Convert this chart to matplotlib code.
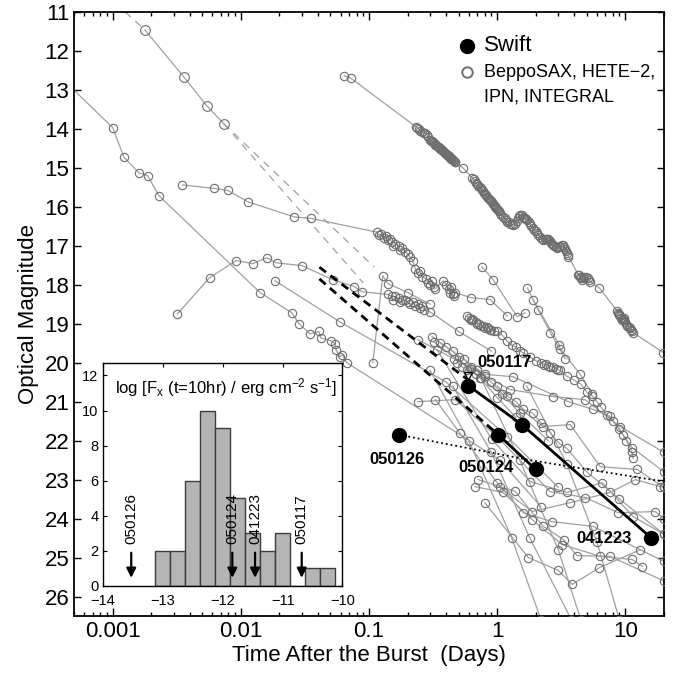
import numpy as np
import matplotlib
matplotlib.use("Agg")
import matplotlib.pyplot as plt
from matplotlib.lines import Line2D
from matplotlib.ticker import FixedLocator, NullFormatter, LogLocator

plt.rcParams['font.family'] = ['Liberation Sans', 'DejaVu Sans']
plt.rcParams['mathtext.fontset'] = 'custom'
plt.rcParams['mathtext.rm'] = 'Liberation Sans'
plt.rcParams['mathtext.it'] = 'Liberation Sans:italic'

# ---- pre-Swift afterglows (BeppoSAX, HETE-2, IPN, INTEGRAL) ----
lc01_t = [0.00178, 0.00359, 0.00542, 0.00736]
lc01_m = [11.46, 12.67, 13.41, 13.87]
# dashed extrapolations of the earliest one
ext_t_a = [0.00125, 0.00178]
ext_m_a = [11.0, 11.46]
ext_t_b = [0.00736, 0.11]
ext_m_b = [13.87, 17.55]
ext_t_c = [0.00736, 0.09]
ext_m_c = [13.87, 17.95]

lc02_t = [0.0004, 0.001, 0.00122, 0.0016, 0.00187, 0.0023, 0.0141, 0.025, 0.0284,
          0.0346, 0.0406, 0.042, 0.0505, 0.0546, 0.0553, 0.0594, 0.062, 0.067, 1.05, 2.2]
lc02_m = [12.7, 13.97, 14.72, 15.13, 15.2, 15.72, 18.2, 18.72, 19.0,
          19.26, 19.2, 19.36, 19.44, 19.51, 19.67, 19.85, 19.8, 20.0, 22.5, 23.7]

lc03_t = [0.0035, 0.0062, 0.0079, 0.0113, 0.026, 0.0354, 0.115, 0.12, 0.125, 0.13,
          0.135, 0.14, 0.145, 0.15, 0.155, 0.16, 0.17, 0.175, 0.18, 0.19, 0.2, 0.21,
          0.22, 0.23, 0.24, 0.25, 0.26, 0.28, 0.29, 0.3, 0.31, 0.32, 0.33, 0.38, 0.4,
          0.42, 0.43, 0.44, 0.45, 0.46, 0.47, 0.62, 0.88, 1.2]
lc03_m = [15.44, 15.53, 15.58, 15.87, 16.26, 16.3, 16.65, 16.72, 16.7, 16.8,
          16.75, 16.85, 16.82, 16.9, 17.0, 16.95, 17.0, 17.1, 17.05, 17.15, 17.2, 17.3,
          17.38, 17.6, 17.7, 17.65, 17.8, 17.85, 17.95, 18.0, 17.9, 18.05, 18.1, 17.9, 18.0,
          18.1, 18.2, 18.05, 18.25, 18.3, 18.2, 18.33, 18.38, 18.8]

lc04_t = [0.0032, 0.0057, 0.0092, 0.0124, 0.0159, 0.019, 0.030, 0.052, 0.077, 0.088,
          0.14, 0.15, 0.155, 0.16, 0.17, 0.175, 0.18, 0.19, 0.2, 0.21, 0.22, 0.23, 0.24,
          0.25, 0.26, 0.27, 0.3, 0.5, 0.9]
lc04_m = [18.75, 17.82, 17.38, 17.46, 17.31, 17.44, 17.51, 17.87, 18.05, 18.18,
          18.25, 18.3, 18.4, 18.3, 18.35, 18.45, 18.4, 18.4, 18.45, 18.5, 18.45, 18.55, 18.5,
          18.6, 18.55, 18.65, 18.7, 19.2, 19.7]

lc05_t = [0.0185, 0.059, 0.4, 1.2, 3.0]
lc05_m = [17.9, 18.95, 20.5, 21.9, 23.2]

lc06_t = [0.064, 0.072,
          0.233, 0.238, 0.245, 0.252, 0.26, 0.268, 0.275, 0.284, 0.29,
          0.300, 0.305, 0.310, 0.315, 0.320, 0.325, 0.330, 0.335, 0.340, 0.345, 0.350,
          0.355, 0.360, 0.365, 0.370, 0.375, 0.380, 0.385, 0.390, 0.395, 0.400, 0.405,
          0.410, 0.415, 0.420, 0.425, 0.430, 0.435, 0.440, 0.445, 0.450, 0.455, 0.460,
          0.465, 0.470, 0.54,
          0.64, 0.655, 0.67, 0.685, 0.70, 0.715, 0.73, 0.745, 0.76, 0.775, 0.79, 0.805,
          0.82, 0.835, 0.85, 0.865, 0.88, 0.895, 0.91, 0.925, 0.94, 0.955, 0.97, 0.985,
          1.0, 1.015, 1.03, 1.05,
          1.08, 1.11, 1.15, 1.18, 1.2, 1.23, 1.27, 1.3, 1.34, 1.38, 1.42, 1.45, 1.48,
          1.51, 1.55, 1.58, 1.62, 1.65, 1.69, 1.72, 1.76, 1.8, 1.85, 1.9, 1.95, 2.0,
          2.05, 2.1, 2.15, 2.22, 2.29, 2.35, 2.4, 2.45, 2.5, 2.55, 2.59, 2.65, 2.7,
          2.75, 2.8, 2.87, 2.94, 3.02, 3.1, 3.18, 3.28, 3.34, 3.4, 3.46, 3.52, 3.56, 3.6,
          4.29, 4.35, 4.4, 4.5, 4.6, 4.7, 4.8, 4.95, 5.1, 5.2, 5.3, 6.27,
          8.66, 8.78, 8.9, 9.0, 9.1, 9.25, 9.4, 9.55, 9.7, 9.85, 10.0, 10.2, 10.4, 10.6,
          10.8, 10.95, 11.1, 11.3, 11.5, 19.8]
lc06_m = [12.64, 12.7,
          13.95, 13.98, 14.0, 14.05, 14.08, 14.1, 14.12, 14.15, 14.2,
          14.28, 14.3, 14.32, 14.34, 14.36, 14.38, 14.41, 14.42, 14.44, 14.46, 14.47,
          14.49, 14.51, 14.53, 14.55, 14.56, 14.58, 14.6, 14.61, 14.63, 14.64, 14.66,
          14.68, 14.69, 14.71, 14.72, 14.74, 14.75, 14.77, 14.78, 14.79, 14.81, 14.82,
          14.84, 14.85, 15.0,
          15.26, 15.3, 15.34, 15.38, 15.42, 15.46, 15.5, 15.53, 15.57, 15.6, 15.64, 15.67,
          15.71, 15.74, 15.77, 15.8, 15.83, 15.86, 15.89, 15.92, 15.95, 15.98, 16.01, 16.04,
          16.06, 16.09, 16.12, 16.15,
          16.2, 16.25, 16.3, 16.35, 16.38, 16.4, 16.43, 16.45, 16.46, 16.44, 16.36, 16.3, 16.24,
          16.2, 16.22, 16.25, 16.28, 16.3, 16.32, 16.33, 16.38, 16.45, 16.5, 16.55, 16.6, 16.63,
          16.67, 16.72, 16.78, 16.82, 16.85, 16.84, 16.83, 16.83, 16.84, 16.86, 16.88, 16.92, 16.95,
          16.98, 17.0, 17.03, 17.05, 17.02, 17.0, 16.98, 16.97, 17.02, 17.08, 17.13, 17.18, 17.23, 17.28,
          17.74, 17.76, 17.8, 17.84, 17.87, 17.84, 17.8, 17.81, 17.82, 17.87, 17.92, 18.08,
          18.68, 18.72, 18.75, 18.78, 18.8, 18.85, 18.9, 18.87, 18.85, 18.9, 18.95, 19.0, 19.05, 19.08,
          19.1, 19.12, 19.15, 19.2, 19.23, 19.74]

lc07_t = [0.107, 0.128, 0.14, 0.2, 0.3]
lc07_m = [20.0, 17.77, 17.97, 18.2, 18.5]

lc08_t = [0.76, 0.93, 1.43, 1.65]
lc08_m = [17.54, 17.87, 18.82, 18.72]

lc09_t = [1.72, 2.09, 2.6, 3.4]
lc09_m = [18.08, 18.64, 19.23, 19.9]

lc10_t = [1.9, 3.05, 3.1, 4.45, 5.5]
lc10_m = [18.38, 19.54, 19.64, 20.3, 20.8]

lc11_t = [0.58, 0.6, 0.62, 0.64, 0.65, 0.68, 0.7, 0.72, 0.75, 0.78, 0.8, 0.83, 0.85, 0.88,
          0.9, 0.95, 1.0, 1.1, 1.2, 1.3, 1.4, 1.5, 1.6, 1.8, 2.0, 2.2, 2.3, 2.4, 2.5, 2.6,
          2.75, 2.9, 3.0, 3.1, 3.5, 4.0, 4.5, 5.0, 5.5, 6.0, 6.5, 7.2, 8.0, 9.0, 9.6,
          10.2, 11.3, 11.5]
lc11_m = [18.8, 18.85, 18.9, 18.88, 18.9, 18.95, 19.0, 19.0, 19.05, 19.05, 19.1, 19.08, 19.1, 19.15,
          19.15, 19.2, 19.2, 19.3, 19.45, 19.55, 19.6, 19.7, 19.75, 19.85, 19.95, 20.0, 20.05, 20.03, 20.08, 20.1,
          20.12, 20.15, 20.18, 20.2, 20.35, 20.45, 20.55, 20.75, 20.85, 21.0, 21.15, 21.35, 21.5, 21.7, 21.85,
          22.0, 22.3, 22.45]

# fainter afterglows in the crowded part of the plot
q01_t = [0.24, 0.46, 1.26, 2.74, 4.87, 9.1, 20.0]
q01_m = [19.41, 19.9, 20.69, 20.87, 20.95, 21.64, 22.3]
q02_t = [0.31, 0.8, 1.33, 3.59, 5.6, 7.6, 11.3, 20.0]
q02_m = [19.33, 20.3, 20.36, 21.0, 21.2, 21.38, 22.18, 22.8]
q03_t = [0.32, 0.75, 2.29, 3.72, 6.38, 12.4, 20.0]
q03_m = [19.46, 20.4, 21.64, 21.59, 22.67, 22.74, 23.2]
q04_t = [0.34, 0.91, 1.81, 3.52, 6.61, 11.5, 20.0]
q04_m = [19.67, 21.97, 23.05, 23.33, 23.08, 23.95, 24.4]
q05_t = [0.24, 0.47, 1.0, 2.59, 4.87, 8.8, 17.1, 20.0]
q05_m = [21.0, 20.95, 21.9, 23.31, 23.46, 23.85, 23.82, 24.0]
q06_t = [0.33, 0.51, 1.0, 1.6, 2.69, 5.6, 20.0]
q06_m = [20.95, 21.8, 23.08, 23.85, 24.08, 24.2, 25.1]
q07_t = [0.67, 1.11, 1.88, 3.22, 6.38, 11.3, 13.6]
q07_m = [23.18, 23.33, 24.03, 24.67, 24.97, 25.05, 25.23]
q08_t = [0.71, 1.38, 2.29, 3.3, 4.2, 7.6, 20.0]
q08_m = [23.0, 23.3, 24.2, 24.54, 24.95, 24.97, 25.6]
q09_t = [0.8, 1.75, 3.0, 3.85, 6.27, 13.1]
q09_m = [23.59, 25.0, 25.33, 25.69, 25.26, 24.8]
q10_t = [1.05, 1.88, 3.72, 7.6, 12.0, 18.8, 20.0]
q10_m = [23.2, 23.82, 23.59, 23.33, 23.0, 23.18, 23.2]
s01_t = [0.45, 0.9, 1.8, 3.8]
s01_m = [20.6, 22.3, 24.5, 26.6]
s02_t = [0.7, 1.5, 3.0, 4.5]
s02_m = [20.2, 22.5, 24.8, 26.6]
s03_t = [1.7, 3.5, 6.0, 9.0]
s03_m = [20.6, 22.6, 24.6, 26.6]
s04_t = [0.3, 0.6, 1.3, 2.2]
s04_m = [20.2, 22.0, 24.5, 26.6]
r01_t = [0.36, 0.4, 0.45, 0.5, 0.55, 0.62, 0.7, 0.8, 0.9, 1.1, 1.5, 2.5]
r01_m = [19.5, 19.6, 19.7, 19.85, 19.9, 20.1, 20.2, 20.35, 20.5, 20.8, 21.3, 22.0]
r02_t = [1.0, 1.2, 1.4, 1.6, 1.9, 2.2, 2.6, 3.0, 3.5, 5.0, 9.0, 20.0]
r02_m = [20.6, 20.85, 21.0, 21.2, 21.3, 21.55, 21.8, 22.05, 22.2, 22.8, 23.5, 24.4]
r03_t = [0.49, 0.53, 0.58, 0.63, 0.68, 0.74, 1.0, 1.4]
r03_m = [20.0, 20.1, 20.2, 20.15, 20.3, 20.4, 20.9, 21.4]

# ---- Swift bursts ----
grb041223_t = [0.597, 1.56, 15.96]
grb041223_m = [20.59, 21.59, 24.5]
grb050124_t = [1.02, 2.0]
grb050124_m = [21.85, 22.74]
grb050126_t = [0.171]
grb050126_m = [21.85]
grb050117_lim_t = [0.597]
grb050117_lim_m = [20.35]
# dotted / dashed extensions
dot050126_t = [0.171, 1.8, 20.0]
dot050126_m = [21.85, 22.5, 23.05]
dash050117_t = [0.041, 0.597]
dash050117_m = [17.55, 20.45]
dash050124_t = [0.041, 1.02]
dash050124_m = [17.85, 21.85]

# ---- inset histogram: log F_x(10 hr) ----
hist_centers = [-13.0, -12.75, -12.5, -12.25, -12.0, -11.75, -11.5, -11.25, -11.0, -10.75, -10.5, -10.25]
hist_counts = [2, 2, 6, 10, 9, 5, 3, 2, 3, 0, 1, 1]
swift_names = ['050126', '050124', '041223', '050117']
swift_logfx = [-13.53, -11.84, -11.46, -10.68]

gray_curves = [
    (lc02_t, lc02_m), (lc03_t, lc03_m), (lc04_t, lc04_m), (lc05_t, lc05_m),
    (lc06_t, lc06_m), (lc07_t, lc07_m), (lc08_t, lc08_m), (lc09_t, lc09_m),
    (lc10_t, lc10_m), (lc11_t, lc11_m),
    (q01_t, q01_m), (q02_t, q02_m), (q03_t, q03_m), (q04_t, q04_m), (q05_t, q05_m),
    (q06_t, q06_m), (q07_t, q07_m), (q08_t, q08_m), (q09_t, q09_m), (q10_t, q10_m),
    (s01_t, s01_m), (s02_t, s02_m), (s03_t, s03_m), (s04_t, s04_m),
    (r01_t, r01_m), (r02_t, r02_m), (r03_t, r03_m),
]

line_gray = '#a0a0a0'
mark_gray = '#6e6e6e'

fig = plt.figure(figsize=(6.74, 6.75), dpi=100)
ax = fig.add_axes([0.110, 0.0874, 0.875, 0.895])

for t, m in gray_curves:
    ax.plot(t, m, '-', color=line_gray, lw=0.9, zorder=2)
    ax.plot(t, m, 'o', mfc='none', mec=mark_gray, ms=6, mew=0.8, zorder=3)
ax.plot(lc01_t, lc01_m, '-', color=line_gray, lw=0.9, zorder=2)
ax.plot(lc01_t, lc01_m, 'o', mfc='none', mec=mark_gray, ms=7, mew=0.8, zorder=3)
for t, m in [(ext_t_a, ext_m_a), (ext_t_b, ext_m_b), (ext_t_c, ext_m_c)]:
    ax.plot(t, m, '--', color=line_gray, lw=0.9, dashes=(6, 5), zorder=2)

# Swift
ax.plot(dot050126_t, dot050126_m, ':', color='k', lw=1.3, zorder=4)
ax.plot(dash050117_t, dash050117_m, '--', color='k', lw=2.0, dashes=(3, 2), zorder=4)
ax.plot(dash050124_t, dash050124_m, '--', color='k', lw=2.0, dashes=(3, 2), zorder=4)
ax.plot(grb041223_t, grb041223_m, '-', color='k', lw=2.0, zorder=5)
ax.plot(grb050124_t, grb050124_m, '-', color='k', lw=2.0, zorder=5)
for t, m in [(grb041223_t, grb041223_m), (grb050124_t, grb050124_m), (grb050126_t, grb050126_m)]:
    ax.plot(t, m, 'o', color='k', ms=10, zorder=6)
ax.plot(grb050117_lim_t, grb050117_lim_m, 'v', mfc='none', mec='k', ms=6, mew=1.0, zorder=6)

lab_kw = dict(fontsize=12, fontweight='bold', zorder=7)
ax.text(0.70, 20.0, '050117', ha='left', va='center', **lab_kw)
ax.text(0.166, 22.49, '050126', ha='center', va='center', **lab_kw)
ax.text(0.82, 22.7, '050124', ha='center', va='center', **lab_kw)
ax.text(11.3, 24.5, '041223', ha='right', va='center', **lab_kw)

ax.set_xscale('log')
ax.set_xlim(5e-4, 20)
ax.set_ylim(26.5, 11)
ax.set_yticks(range(11, 27))
ax.xaxis.set_major_locator(FixedLocator([0.001, 0.01, 0.1, 1, 10]))
ax.set_xticklabels(['0.001', '0.01', '0.1', '1', '10'])
ax.xaxis.set_minor_locator(LogLocator(base=10, subs=np.arange(2, 10), numticks=20))
ax.xaxis.set_minor_formatter(NullFormatter())
ax.tick_params(which='both', direction='in', top=True, right=True, labelsize=16, width=1)
ax.tick_params(which='major', length=6)
ax.tick_params(which='minor', length=3)
ax.tick_params(axis='y', length=5)
for s in ax.spines.values():
    s.set_linewidth(1.3)
ax.set_xlabel('Time After the Burst  (Days)', fontsize=16, labelpad=2)
ax.set_ylabel('Optical Magnitude', fontsize=16, labelpad=4)

h1 = Line2D([], [], marker='o', ls='none', color='k', ms=10)
h2 = Line2D([], [], marker='o', ls='none', mfc='none', mec=mark_gray, ms=7.5, mew=1.4)
h3 = Line2D([], [], ls='none')
leg = ax.legend([h1, h2, h3], ['Swift', 'BeppoSAX, HETE\u22122,', 'IPN, INTEGRAL'],
                loc='upper left', bbox_to_anchor=(0.64, 0.978), frameon=False,
                handlelength=0.8, handletextpad=0.85, borderpad=0.2, labelspacing=0.57)
leg.get_texts()[0].set_fontsize(16)
leg.get_texts()[1].set_fontsize(13)
leg.get_texts()[2].set_fontsize(13)

# inset
axi = fig.add_axes([0.153, 0.132, 0.355, 0.330])
axi.bar(hist_centers, hist_counts, width=0.25, color='#b4b4b4', edgecolor='#3c3c3c', lw=1.0, zorder=2)
for name, x in zip(swift_names, swift_logfx):
    axi.annotate('', xy=(x, 0.3), xytext=(x, 2.05),
                 arrowprops=dict(arrowstyle='-|>', color='k', lw=1.6, mutation_scale=14), zorder=4)
    axi.text(x, 2.4, name, rotation=90, ha='center', va='bottom', fontsize=11, zorder=5)
axi.text(0.05, 0.89, r'log [F$_{\mathrm{x}}$ (t=10hr) / erg cm$^{-2}$ s$^{-1}$]',
         transform=axi.transAxes, fontsize=12, va='center', ha='left')
axi.set_xlim(-14, -10)
axi.set_ylim(0, 12.7)
axi.set_xticks([-14, -13, -12, -11, -10])
axi.set_yticks(range(0, 13, 2))
axi.tick_params(direction='in', top=True, right=True, labelsize=10.5, length=3)
axi.tick_params(axis='x', pad=6)
for s in axi.spines.values():
    s.set_linewidth(1.0)

fig.savefig('out.png', dpi=100)
